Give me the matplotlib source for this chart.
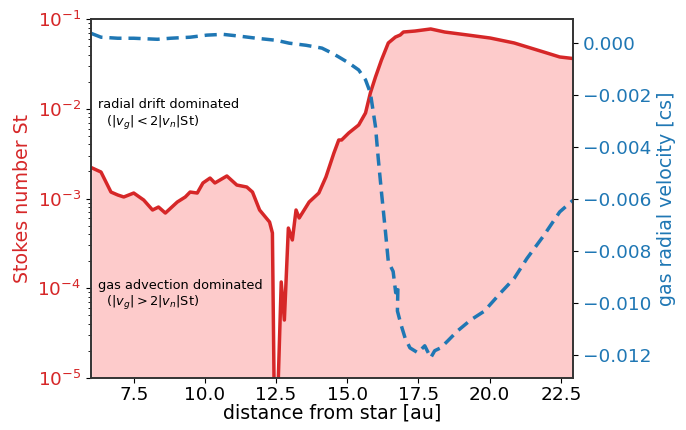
import matplotlib.pyplot as plt
import numpy as np

# Stokes number profile (log10 St) vs radius [au]
r_st = [6.04, 6.35, 6.70, 6.94, 7.15, 7.50, 7.85, 8.16, 8.37, 8.61, 9.03, 9.31,
        9.48, 9.73, 9.93, 10.18, 10.35, 10.77, 11.12, 11.47, 11.67, 11.92, 12.27,
        12.37, 12.44, 12.54, 12.68, 12.79, 12.93, 13.07, 13.20, 13.31, 13.66,
        14.00, 14.25, 14.53, 14.70, 14.80, 15.05, 15.40, 15.64, 15.81, 15.99,
        16.20, 16.44, 16.69, 16.86, 16.97, 17.38, 17.93, 18.42, 19.22, 20.02,
        20.86, 21.90, 22.46, 22.92]
log_st = [-2.66, -2.705, -2.928, -2.961, -2.983, -2.939, -3.017, -3.128, -3.095,
          -3.162, -3.039, -2.983, -2.928, -2.939, -2.827, -2.772, -2.827, -2.749,
          -2.850, -2.872, -2.928, -3.128, -3.262, -3.384, -5.4, -5.4, -3.930,
          -4.354, -3.329, -3.462, -3.128, -3.217, -3.039, -2.939, -2.760, -2.493,
          -2.348, -2.348, -2.270, -2.181, -2.047, -1.824, -1.646, -1.457, -1.267,
          -1.201, -1.178, -1.145, -1.134, -1.111, -1.145, -1.178, -1.212, -1.267,
          -1.368, -1.423, -1.44]

# gas radial velocity [1e-3 cs]
r_vg = [6.0, 6.35, 6.94, 7.5, 8.33, 8.79, 9.48, 10.07, 10.63, 11.22, 11.81, 12.51,
        12.96, 13.55, 14.11, 14.46, 14.70, 15.05, 15.40, 15.64, 15.81, 15.99, 16.09,
        16.20, 16.34, 16.44, 16.61, 16.70, 16.78, 16.76, 16.89, 17.03, 17.20, 17.48,
        17.72, 17.93, 18.07, 18.28, 18.53, 18.87, 19.33, 19.81, 20.37, 20.86, 21.31,
        21.90, 22.46, 22.92]
vg = [0.38, 0.23, 0.19, 0.19, 0.15, 0.19, 0.23, 0.31, 0.34, 0.27, 0.19, 0.11,
      0.0, -0.08, -0.19, -0.38, -0.53, -0.76, -1.03, -1.41, -1.91, -3.21, -4.47,
      -5.73, -7.25, -8.40, -8.78, -9.6, -9.3, -10.3, -10.84, -11.34, -11.72, -11.91,
      -11.64, -12.10, -11.83, -11.72, -11.45, -11.07, -10.65, -10.31, -9.62, -9.05,
      -8.28, -7.40, -6.49, -6.05]

st = 10 ** np.array(log_st)
vg = np.array(vg) * 1e-3

fig = plt.figure(figsize=(6.86, 4.3), dpi=100)
ax = fig.add_axes([0.1327, 0.1209, 0.7023, 0.8349])

ax.fill_between(r_st, st, 1e-10, color="#fdcbcb", lw=0)
ax.plot(r_st, st, color="tab:red", lw=2.5)
ax.set_yscale("log")
ax.set_ylim(1e-5, 1e-1)
ax.set_xlim(6.0, 22.92)
ax.set_xticks(np.arange(7.5, 22.6, 2.5))
ax.set_xlabel("distance from star [au]", fontsize=13.7, labelpad=0)
ax.set_ylabel("Stokes number St", color="tab:red", fontsize=13.7)
ax.tick_params(axis="y", labelcolor="tab:red", labelsize=13.3)
ax.tick_params(axis="x", labelsize=13.3, pad=2)

ax.text(6.23, 10 ** -1.947, "radial drift dominated", fontsize=9.3, va="center", ha="left")
ax.text(6.23, 10 ** -2.159, "  ($|v_g| < 2|v_n|$St)", fontsize=9.3, va="center", ha="left")
ax.text(6.23, 10 ** -3.964, "gas advection dominated", fontsize=9.3, va="center", ha="left")
ax.text(6.23, 10 ** -4.164, "  ($|v_g| > 2|v_n|$St)", fontsize=9.3, va="center", ha="left")

ax2 = ax.twinx()
ax2.plot(r_vg, vg, color="tab:blue", lw=2.5, ls=(0, (3.5, 2)))
ax2.set_ylim(-0.01288, 0.00093)
ax2.set_yticks(np.arange(-0.012, 0.0005, 0.002))
ax2.set_ylabel("gas radial velocity [cs]", color="tab:blue", fontsize=13.7)
ax2.tick_params(axis="y", labelcolor="tab:blue", labelsize=13.3)

for a in (ax, ax2):
    for s in a.spines.values():
        s.set_linewidth(1.2)
        s.set_color("#333333")

plt.savefig("out.png")
